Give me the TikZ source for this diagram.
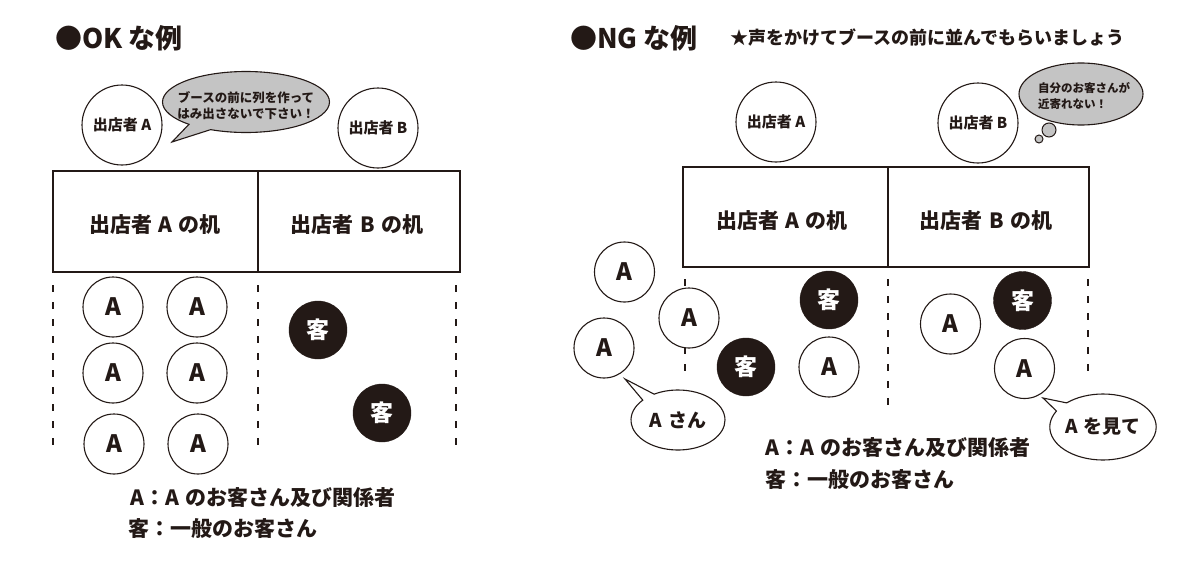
\documentclass[tikz,border=0pt]{standalone}
\usepackage{fontspec}
\setmainfont{Noto Sans CJK JP}
\usetikzlibrary{shapes.geometric,shapes.callouts}
\definecolor{bubblegray}{RGB}{196,196,196}
\definecolor{ink}{RGB}{35,25,22}
\newcommand{\fs}[1]{\fontsize{#1pt}{#1pt}\selectfont\bfseries}
\begin{document}
\begin{tikzpicture}[x=1pt,y=-1pt,
  every node/.style={text=ink},
  person/.style={circle,draw=ink,line width=1.1pt,fill=white,minimum size=80pt,inner sep=0pt,font=\fs{15}},
  acirc/.style={circle,draw=ink,line width=1.1pt,fill=white,minimum size=60pt,inner sep=0pt,font=\fs{24}},
  kcirc/.style={circle,draw=ink,fill=ink,text=white,minimum size=58pt,inner sep=0pt,font=\fs{23}},
  lane/.style={draw=ink,line width=1.3pt,dash pattern=on 7pt off 10pt},
  title/.style={anchor=west,inner sep=0pt,font=\fs{27}},
  legend/.style={anchor=west,inner sep=0pt,font=\fs{21}},
  desktext/.style={inner sep=0pt,font=\fs{21}},
  talk/.style={ellipse callout,draw=ink,line width=1.1pt,inner sep=0pt,callout pointer arc=18},
]
\useasboundingbox (0,0) rectangle (1200,562);

% ================= OK side =================
\node[title] (tOK) at (55,38) {●OK な例};

\node[person] (okA) at (122,125) {出店者 A};
\node[person] (okB) at (378,128) {出店者 B};
\coordinate (okTip) at (172,142);
\node[talk,fill=bubblegray,minimum width=167pt,minimum height=61pt,
      callout absolute pointer={(okTip)}] (okSay) at (246,102) {};
\node[align=center,inner sep=0pt,font=\fs{12.5}] (okSayText) at (246,106)
  {ブースの前に列を作って\\[3.5pt]はみ出さないで下さい！};

\draw[draw=ink,line width=1.8pt] (53,171) rectangle (460,272);
\coordinate (okDivT) at (258,171);
\coordinate (okDivB) at (258,272);
\draw[draw=ink,line width=1.8pt] (okDivT) -- (okDivB);
\node[desktext] (okDeskA) at (155,225) {出店者\hspace{0.3em}A\hspace{0.3em}の机};
\node[desktext] (okDeskB) at (357,225) {出店者\hspace{0.3em}B\hspace{0.3em}の机};

\coordinate (okL1t) at (53,285);  \coordinate (okL1b) at (53,453);
\coordinate (okL2t) at (258,285); \coordinate (okL2b) at (258,453);
\coordinate (okL3t) at (456,285); \coordinate (okL3b) at (456,453);
\draw[lane] (okL1t) -- (okL1b);
\draw[lane] (okL2t) -- (okL2b);
\draw[lane] (okL3t) -- (okL3b);

\node[acirc] (okA1) at (113,307) {A};
\node[acirc] (okA2) at (197,307) {A};
\node[acirc] (okA3) at (113,373) {A};
\node[acirc] (okA4) at (197,373) {A};
\node[acirc] (okA5) at (114,444) {A};
\node[acirc] (okA6) at (198,444) {A};
\node[kcirc] (okK1) at (318,330) {客};
\node[kcirc] (okK2) at (382,413) {客};

\node[legend] (okLeg1) at (130,498) {A：A\hspace{0.3em}のお客さん及び関係者};
\node[legend] (okLeg2) at (128,529) {客：一般のお客さん};

% ================= NG side =================
\node[title] (tNG) at (570,38) {●NG な例};
\node[anchor=west,inner sep=0pt,font=\fs{18}] (tip) at (730,38) {★声をかけてブースの前に並んでもらいましょう};

\node[person] (ngA) at (776,122) {出店者 A};
\node[person] (ngB) at (978,123) {出店者 B};
\node[ellipse,draw=ink,line width=1.1pt,fill=bubblegray,minimum width=124pt,minimum height=62pt,inner sep=0pt]
  (ngThink) at (1081,94) {};
\node[align=left,inner sep=0pt,font=\fs{11.5}] (ngThinkText) at (1084,96)
  {自分のお客さんが\\[4pt]近寄れない！};
\node[circle,draw=ink,line width=1pt,fill=bubblegray,minimum size=14pt,inner sep=0pt] (ngDot1) at (1049,130) {};
\node[circle,draw=ink,line width=1pt,fill=bubblegray,minimum size=8pt,inner sep=0pt] (ngDot2) at (1039,139) {};

\draw[draw=ink,line width=1.8pt] (683,167) rectangle (1089,267);
\coordinate (ngDivT) at (888,167);
\coordinate (ngDivB) at (888,267);
\draw[draw=ink,line width=1.8pt] (ngDivT) -- (ngDivB);
\node[desktext] (ngDeskA) at (782,221) {出店者\hspace{0.3em}A\hspace{0.3em}の机};
\node[desktext] (ngDeskB) at (986,221) {出店者\hspace{0.3em}B\hspace{0.3em}の机};

\coordinate (ngL1t) at (685,279);  \coordinate (ngL1b) at (685,375);
\coordinate (ngL2t) at (888,279);  \coordinate (ngL2b) at (888,413);
\coordinate (ngL3t) at (1088,279); \coordinate (ngL3b) at (1088,375);
\draw[lane] (ngL1t) -- (ngL1b);
\draw[lane] (ngL2t) -- (ngL2b);
\draw[lane] (ngL3t) -- (ngL3b);

\node[acirc] (ngA1) at (624.5,272) {A};
\node[acirc] (ngA2) at (689,318) {A};
\node[acirc] (ngA3) at (604,348) {A};
\node[kcirc] (ngK1) at (746,367) {客};
\node[kcirc] (ngK2) at (829,300) {客};
\node[acirc] (ngA4) at (829,367) {A};
\node[acirc] (ngA5) at (950.5,324) {A};
\node[kcirc] (ngK3) at (1022.5,300.5) {客};
\node[acirc] (ngA6) at (1024.5,368.5) {A};

\coordinate (ngTip1) at (625,379);
\node[talk,fill=white,minimum width=94pt,minimum height=60pt,
      callout absolute pointer={(ngTip1)},font=\fs{19}]
  (ngSay1) at (678,420) {A\hspace{0.3em}さん};
\coordinate (ngTip2) at (1043,398);
\node[talk,fill=white,minimum width=100pt,minimum height=66pt,
      callout absolute pointer={(ngTip2)},font=\fs{19}]
  (ngSay2) at (1103,427) {A\hspace{0.3em}を見て};

\node[legend] (ngLeg1) at (765,448) {A：A\hspace{0.3em}のお客さん及び関係者};
\node[legend] (ngLeg2) at (765,480) {客：一般のお客さん};
\end{tikzpicture}
\end{document}
